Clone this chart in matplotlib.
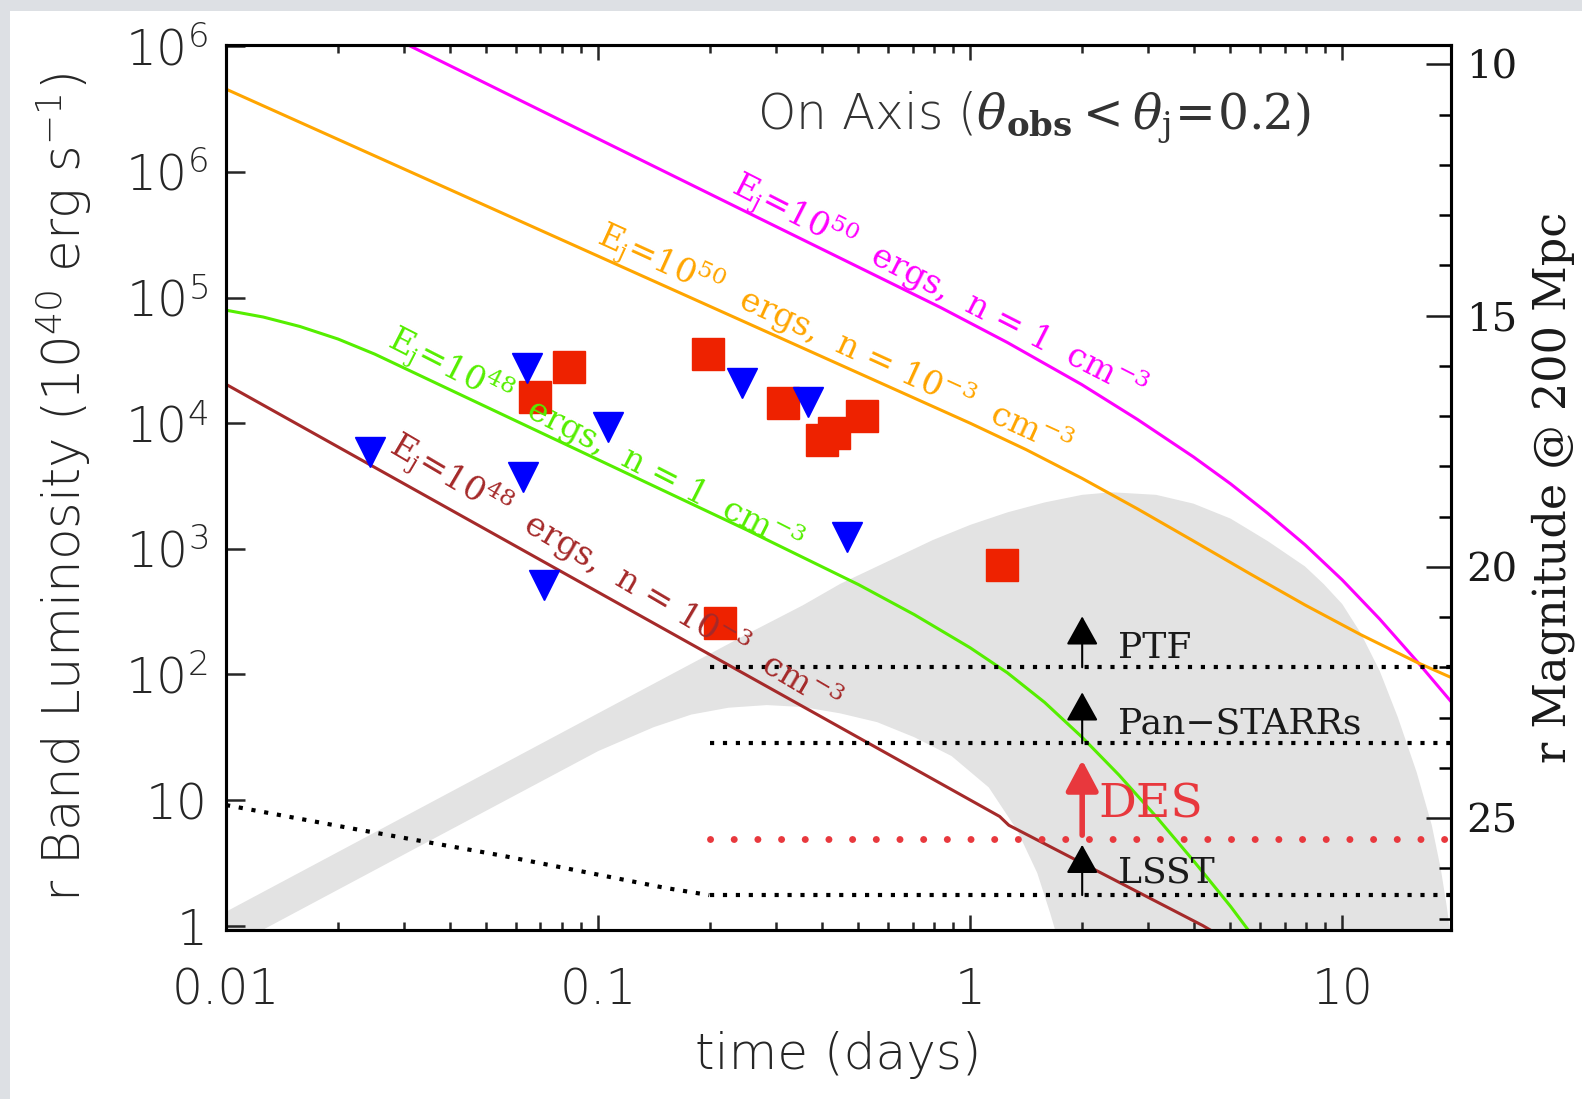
import math
import matplotlib.pyplot as plt
from matplotlib.patches import Rectangle
from matplotlib.ticker import FixedLocator, NullFormatter, NullLocator, LogLocator

# fonts: thin sans on left / bottom, serif on the right axis and curve labels
SANS = 'DejaVu Sans'
SERIF = 'DejaVu Serif'
plt.rcParams['font.family'] = SANS
plt.rcParams['font.weight'] = 'light'
plt.rcParams['axes.labelweight'] = 'light'
plt.rcParams['mathtext.fontset'] = 'custom'
plt.rcParams['mathtext.rm'] = 'DejaVu Serif'
plt.rcParams['mathtext.it'] = 'DejaVu Serif:italic'
plt.rcParams['mathtext.bf'] = 'DejaVu Serif:bold'
plt.rcParams['mathtext.sf'] = 'DejaVu Sans:light'

# ---- data (time in days, L in 1e40 erg/s) ----
# model light curves
mag_t = [0.0282, 0.251, 0.834, 1.259, 1.995, 2.818, 3.981, 5.012, 6.31, 7.943,
         10.0, 12.59, 15.85, 19.63]
mag_L = [1.17e7, 4.79e5, 8.32e4, 4.39e4, 2.03e4, 1.07e4, 5395, 3289, 1914, 1076,
         565, 277, 128, 60.5]

org_t = [0.01, 0.1, 1.0, 1.413, 1.995, 2.818, 3.981, 5.623, 7.943, 11.22, 15.85, 19.63]
org_L = [4.57e6, 2.14e5, 1.0e4, 6166, 3648, 2078, 1155, 638, 357, 207, 125, 94.4]

grn_t = [0.01, 0.0126, 0.0158, 0.02, 0.0251, 0.0316, 0.0398, 0.251, 0.501, 0.708,
         1.0, 1.259, 1.585, 1.995, 2.512, 3.162, 3.981, 5.012, 5.623]
grn_L = [7.94e4, 7.0e4, 5.89e4, 4.68e4, 3.55e4, 2.57e4, 1.86e4, 1413, 519, 299,
         163, 103, 59.9, 31.8, 15.8, 7.37, 3.29, 1.42, 0.9]

brn_t = [0.01, 1.2, 1.27, 4.22, 4.57]
brn_L = [2.04e4, 7.4, 6.3, 1.0, 0.87]

# early part of the black dotted curve (joins LSST limit at 0.2 d)
early_t = [0.01, 0.0221, 0.0546, 0.151, 0.199]
early_L = [9.12, 5.89, 3.63, 2.0, 1.75]

# grey band: upper edge left->right, then lower edge right->left
band_up_t = [0.01, 0.0316, 0.1, 0.251, 0.355, 0.447, 0.631, 0.794, 1.0, 1.259, 1.585,
             2.0, 2.40, 3.16, 3.98, 5.01, 6.31, 7.94, 8.91, 10.0, 11.2, 12.6, 14.1,
             15.85, 17.4, 18.4, 19.1, 19.6]
band_up_L = [1.29, 7.94, 49.0, 209, 355, 525, 851, 1175, 1550, 1950, 2340,
             2690, 2820, 2690, 2290, 1740, 1150, 724, 525, 363, 214, 107, 45.7,
             16.6, 6.31, 2.82, 1.41, 0.79]
band_lo_t = [1.718, 1.64, 1.514, 1.337, 1.122, 0.891, 0.708, 0.562, 0.447, 0.355, 0.284,
             0.224, 0.178, 0.141, 0.1, 0.0316, 0.01]
band_lo_L = [0.79, 1.26, 2.63, 5.75, 12.6, 22.4, 31.6, 41.7, 49.0, 55.0, 57.0,
             54.3, 47.9, 38.0, 24.5, 3.98, 0.646]

# observations
red_t = [0.0836, 0.0676, 0.197, 0.314, 0.513, 0.431, 0.400, 0.212, 1.22]
red_L = [28200, 16300, 35600, 14600, 11400, 8320, 7350, 259, 743]
blue_t = [0.0644, 0.244, 0.366, 0.1064, 0.0244, 0.0628, 0.467, 0.0715]
blue_L = [27400, 20800, 14800, 9380, 5930, 3750, 1250, 515]

# survey limits
survey_names = ['PTF', 'Pan\u2212STARRs', 'LSST']
survey_L = [114, 28.3, 1.75]
survey_tip = [290, 72, 4.4]
survey_label_L = [135, 34, 2.19]
des_L = 4.87
des_arrow = (5.25, 20.8)
survey_t0 = 0.2
arrow_t = 2.0

x_ticks = [0.01, 0.1, 1, 10]
x_tick_labels = ['0.01', '0.1', '1', '10']
y_ticks = [1, 10, 1e2, 1e3, 1e4, 1e5, 1e6, 1e7]
y_tick_labels = ['1', '10'] + [r'10$^{\mathsf{%d}}$' % k for k in (2, 3, 4, 5, 6, 6)]
mag_ticks = [10, 15, 20, 25]
mag_zero = 27.14   # m = mag_zero - 2.5 log10(L)

t_min, t_max = 0.01, 19.6
L_min, L_max = 0.923, 1.026e7

TXT = '#262626'

# ---- figure ----
fig = plt.figure(figsize=(15.82, 10.99), dpi=100, facecolor='#dde0e4')
fig.patches.append(Rectangle((10 / 1582, 0), 1, 1 - 11 / 1099, transform=fig.transFigure,
                             facecolor='white', edgecolor='none', zorder=-1))
ax = fig.add_axes([0.14286, 0.15378, 0.77434, 0.80528])

ax.fill(band_up_t + band_lo_t, band_up_L + band_lo_L, color='#e3e3e3', lw=0, zorder=1)

ax.plot(mag_t, mag_L, color='#ff00ff', lw=2.2, zorder=2)
ax.plot(org_t, org_L, color='#ffa500', lw=2.2, zorder=2)
ax.plot(grn_t, grn_L, color='#55ee00', lw=2.2, zorder=2)
ax.plot(brn_t, brn_L, color='#a52a2a', lw=2.2, zorder=2)

# survey limits
dot = (0, (1, 2.1))
ax.plot(early_t, early_L, color='k', lw=3, ls=dot, zorder=2)
for L in survey_L:
    ax.plot([survey_t0, t_max], [L, L], color='k', lw=3, ls=dot, zorder=2)
ax.plot([survey_t0, t_max * 0.97], [des_L, des_L], color='#e8383d', lw=5,
        ls=(0, (0.01, 3.4)), dash_capstyle='round', zorder=2)

for L, tip in zip(survey_L, survey_tip):
    ax.annotate('', xy=(arrow_t, tip), xytext=(arrow_t, L),
                arrowprops=dict(arrowstyle='-|>,head_length=0.9,head_width=0.5',
                                mutation_scale=20, color='k', lw=1.5,
                                shrinkA=0, shrinkB=0), zorder=3)
ax.annotate('', xy=(arrow_t, des_arrow[1]), xytext=(arrow_t, des_arrow[0]),
            arrowprops=dict(arrowstyle='-|>,head_length=0.85,head_width=0.45',
                            mutation_scale=22, color='#e8383d', lw=4,
                            shrinkA=0, shrinkB=0), zorder=3)
for name, L in zip(survey_names, survey_label_L):
    ax.text(2.5, L, name, family=SERIF, fontsize=26, color='#1a1a1a',
            ha='left', va='baseline', zorder=4)
ax.text(2.21, 7.2, 'DES', family=SERIF, fontsize=34, color='#e8383d',
        ha='left', va='baseline', zorder=4)

# observations
ax.plot(red_t, red_L, ls='none', marker='s', ms=23, color='#ee2200', zorder=3)
ax.plot(blue_t, blue_L, ls='none', marker='v', ms=21, color='#0000ff', zorder=3)

# curve labels
lab_kw = dict(family=SERIF, fontsize=24, ha='left', va='baseline',
              rotation_mode='anchor', zorder=4)
ax.text(0.225, 6.97e5, r'E$_{\rm j}$=10$^{50}$  ergs,  n = 1  cm$^{-3}$',
        color='#ff00ff', rotation=-27, **lab_kw)
ax.text(0.098, 2.74e5, r'E$_{\rm j}$=10$^{50}$  ergs,  n = 10$^{-3}$  cm$^{-3}$',
        color='#ffa500', rotation=-24.5, **lab_kw)
ax.text(0.0268, 4.12e4, r'E$_{\rm j}$=10$^{48}$  ergs,  n = 1  cm$^{-3}$',
        color='#55ee00', rotation=-27, **lab_kw)
ax.text(0.0272, 6000, r'E$_{\rm j}$=10$^{48}$  ergs,  n = 10$^{-3}$  cm$^{-3}$',
        color='#a52a2a', rotation=-30.5, **lab_kw)

ax.text(0.4335, 0.906, 'On Axis (' + r'$\theta_{\mathbf{obs}}<\theta_{\mathrm{j}}\!=\!\mathrm{0.2)}$',
        transform=ax.transAxes, fontsize=35, ha='left', va='baseline', color='#333333')

# axes
ax.set_xscale('log')
ax.set_yscale('log')
ax.set_xlim(t_min, t_max)
ax.set_ylim(L_min, L_max)
ax.xaxis.set_major_locator(FixedLocator(x_ticks))
ax.set_xticklabels(x_tick_labels)
ax.xaxis.set_minor_locator(LogLocator(base=10, subs=range(2, 10)))
ax.xaxis.set_minor_formatter(NullFormatter())
ax.yaxis.set_major_locator(FixedLocator(y_ticks))
ax.set_yticklabels(y_tick_labels)
ax.yaxis.set_minor_locator(NullLocator())
ax.tick_params(axis='x', which='both', direction='in', top=True, bottom=True, width=1.8,
               colors=TXT)
ax.tick_params(axis='x', which='major', length=11, pad=26, labelsize=35)
ax.tick_params(axis='x', which='minor', length=5.5)
ax.tick_params(axis='y', which='major', direction='in', left=True, right=False,
               length=14, width=1.8, pad=13, labelsize=35, colors=TXT)
for s in ax.spines.values():
    s.set_linewidth(2.2)

ax.set_xlabel('time (days)', fontsize=36, color=TXT)
ax.xaxis.set_label_coords(0.5, -0.114)
ax.set_ylabel(r'r Band Luminosity (10$^{\mathsf{40}}$ erg s$^{\mathsf{-1}}$)', fontsize=37,
              color=TXT)
ax.yaxis.set_label_coords(-0.108, 0.5)

# right axis: magnitude at 200 Mpc
ax2 = ax.twinx()
ax2.set_ylim(mag_zero - 2.5 * math.log10(L_min), mag_zero - 2.5 * math.log10(L_max))
ax2.yaxis.set_major_locator(FixedLocator(mag_ticks))
ax2.yaxis.set_minor_locator(FixedLocator(range(10, 28)))
ax2.tick_params(axis='y', which='major', direction='in', length=18, width=1.8, pad=11,
                labelsize=29, labelfontfamily=SERIF, colors='#1a1a1a')
ax2.tick_params(axis='y', which='minor', direction='in', length=9, width=1.8)
for s in ax2.spines.values():
    s.set_linewidth(2.2)
ax2.set_ylabel('r Magnitude @ 200 Mpc', family=SERIF, fontsize=32, color='#1a1a1a',
               fontweight='normal')
ax2.yaxis.set_label_coords(1.0653, 0.5)

fig.savefig('out.png', dpi=100, facecolor=fig.get_facecolor())
